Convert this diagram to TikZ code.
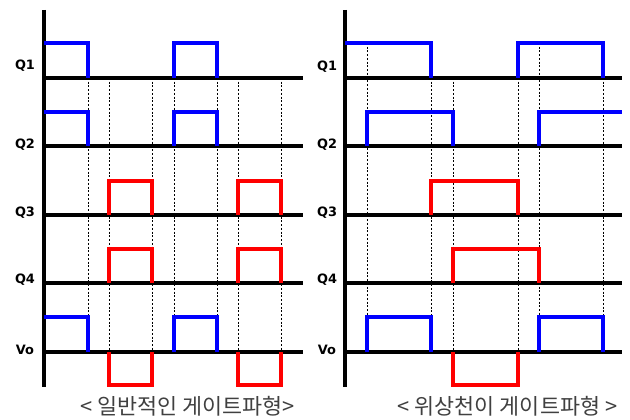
\documentclass[tikz,border=0pt]{standalone}
\usepackage{fontspec}
\usepackage{tikz}
\usepackage{xcolor}
\usetikzlibrary{positioning}
\newfontfamily\sigfont{DejaVu Sans}
\newfontfamily\cjk{Noto Sans CJK KR}
\definecolor{GateBlue}{HTML}{0000FF}
\definecolor{GateRed}{HTML}{FF0000}
\definecolor{CapGray}{HTML}{404040}
\tikzset{
    % Signal name left of the axis
    signame/.style={
        font=\sigfont\bfseries\fontsize{11}{12}\selectfont,
        inner sep=0pt
    },
    % Caption under each panel
    capnode/.style={
        font=\cjk\fontsize{18.6}{20}\selectfont,
        text=CapGray,
        inner sep=0pt
    },
    % Time axis and baselines
    axisline/.style={
        line width=3.4pt,
        draw=black
    },
    baseline/.style={
        line width=2.6pt,
        draw=black
    },
    % Waveforms
    bluewave/.style={
        line width=3.4pt,
        draw=GateBlue
    },
    redwave/.style={
        line width=3.4pt,
        draw=GateRed
    },
    % Timing guides
    guide/.style={
        line width=0.8pt,
        draw=black,
        dash pattern=on 1.6pt off 1.6pt
    }
}

\begin{document}
\begin{tikzpicture}[x=0.3mm, y=-0.3mm]
    \useasboundingbox (0,0) rectangle (630,419);

    % ---------- Left panel: common gating ----------
    \foreach \gx in {88,109,152,174,217,238,281}
        \draw[guide] (\gx,78) -- (\gx,352);
    \draw[axisline] (44,10) -- (44,387);
    \foreach \gy in {78,146,215,283,352}
        \draw[baseline] (44,\gy) -- (303,\gy);

    \node[signame] (lq1) at (25,66) {Q1};
    \node[signame] (lq2) at (25,145) {Q2};
    \node[signame] (lq3) at (25,213) {Q3};
    \node[signame] (lq4) at (25,280) {Q4};
    \node[signame] (lvo) at (25,350) {Vo};

    \draw[bluewave] (44,43) -- (88,43) -- (88,78);
    \draw[bluewave] (174,78) -- (174,43) -- (217,43) -- (217,78);
    \draw[bluewave] (44,112) -- (88,112) -- (88,146);
    \draw[bluewave] (174,146) -- (174,112) -- (217,112) -- (217,146);
    \draw[redwave] (109,215) -- (109,181) -- (152,181) -- (152,215);
    \draw[redwave] (238,215) -- (238,181) -- (281,181) -- (281,215);
    \draw[redwave] (109,283) -- (109,249) -- (152,249) -- (152,283);
    \draw[redwave] (238,283) -- (238,249) -- (281,249) -- (281,283);
    \draw[bluewave] (44,317) -- (88,317) -- (88,352);
    \draw[bluewave] (174,352) -- (174,317) -- (217,317) -- (217,352);
    \draw[redwave] (109,352) -- (109,385) -- (152,385) -- (152,352);
    \draw[redwave] (238,352) -- (238,385) -- (281,385) -- (281,352);

    \node[capnode] (lcap) at (187.5,406) {< 일반적인 게이트파형>};

    % ---------- Right panel: phase shifted gating ----------
    \draw[guide] (367,43) -- (367,317);
    \draw[guide] (431,78) -- (431,352);
    \draw[guide] (453,78) -- (453,352);
    \draw[guide] (518,78) -- (518,352);
    \draw[guide] (539,43) -- (539,317);
    \draw[guide] (603,78) -- (603,317);
    \draw[axisline] (345,10) -- (345,387);
    \foreach \gy in {78,146,215,283,352}
        \draw[baseline] (345,\gy) -- (622,\gy);

    \node[signame] (rq1) at (327,67) {Q1};
    \node[signame] (rq2) at (327,145) {Q2};
    \node[signame] (rq3) at (327,213) {Q3};
    \node[signame] (rq4) at (327,280) {Q4};
    \node[signame] (rvo) at (327,350) {Vo};

    \draw[bluewave] (345,43) -- (431,43) -- (431,78);
    \draw[bluewave] (518,78) -- (518,43) -- (603,43) -- (603,78);
    \draw[bluewave] (367,146) -- (367,112) -- (453,112) -- (453,146);
    \draw[bluewave] (539,146) -- (539,112) -- (622,112);
    \draw[redwave] (431,215) -- (431,181) -- (518,181) -- (518,215);
    \draw[redwave] (453,283) -- (453,249) -- (539,249) -- (539,283);
    \draw[bluewave] (367,352) -- (367,317) -- (431,317) -- (431,352);
    \draw[bluewave] (539,352) -- (539,317) -- (603,317) -- (603,352);
    \draw[redwave] (453,352) -- (453,385) -- (518,385) -- (518,352);

    \node[capnode] (rcap) at (507.5,406) {< 위상천이 게이트파형 >};
\end{tikzpicture}
\end{document}
